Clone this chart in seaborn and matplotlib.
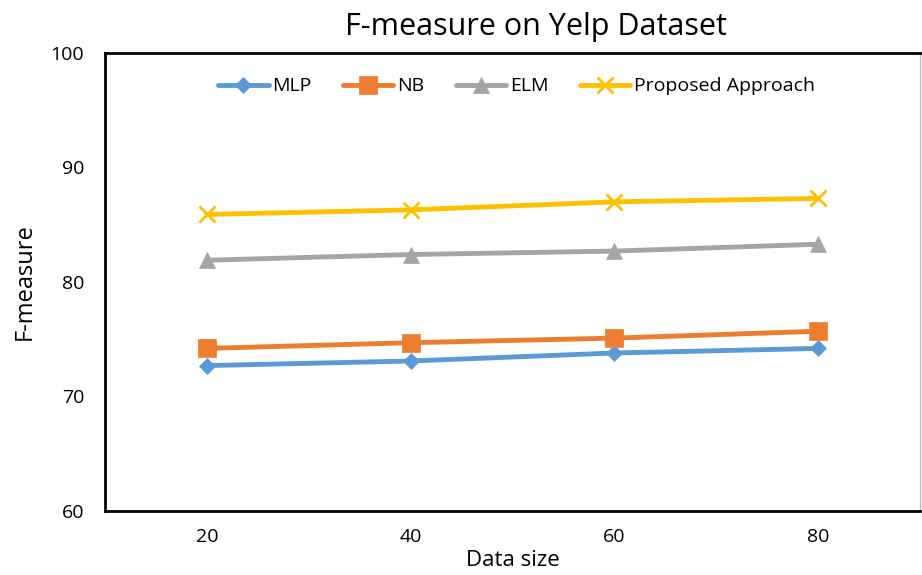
import matplotlib
matplotlib.use("Agg")
import matplotlib.pyplot as plt
import seaborn as sns
import pandas as pd
from matplotlib.ticker import FixedLocator

data_sizes = ["20", "40", "60", "80"]
series_names = ["MLP", "NB", "ELM", "Proposed Approach"]
mlp = [72.7, 73.1, 73.8, 74.2]
nb = [74.2, 74.7, 75.1, 75.7]
elm = [81.9, 82.4, 82.7, 83.3]
proposed = [85.9, 86.3, 87.0, 87.3]
y_ticks = [60, 70, 80, 90, 100]

colors = ["#5B9BD5", "#ED7D31", "#A5A5A5", "#FFC000"]
markers = ["D", "s", "^", "x"]
msizes = [8.5, 12.5, 12, 11.5]

sns.set_theme(style="white")
plt.rcParams["font.family"] = ["Open Sans", "DejaVu Sans"]
plt.rcParams["text.color"] = "black"
plt.rcParams["axes.labelcolor"] = "black"
plt.rcParams["xtick.color"] = "black"
plt.rcParams["ytick.color"] = "black"

rows = []
for name, vals in zip(series_names, [mlp, nb, elm, proposed]):
    for x, v in zip(data_sizes, vals):
        rows.append({"Data size": x, "F-measure": v, "Series": name})
df = pd.DataFrame(rows)

fig = plt.figure(figsize=(9.22, 5.75), dpi=100)
ax = fig.add_axes([105 / 922, 1 - 511 / 575, (920 - 105) / 922, (511 - 53) / 575])

for name, c, m, ms in zip(series_names, colors, markers, msizes):
    sub = df[df["Series"] == name]
    sns.lineplot(data=sub, x="Data size", y="F-measure", ax=ax, color=c,
                 marker=m, markersize=ms, linewidth=3.5, label=name,
                 markeredgecolor=c, markeredgewidth=2 if m == "x" else 0.5,
                 sort=False)

ax.set_xlim(-0.5, len(data_sizes) - 0.5)
ax.set_ylim(60, 100)
ax.set_yticks(y_ticks)
ax.set_xticks(range(len(data_sizes)))
ax.set_xticklabels(data_sizes)
ax.xaxis.set_minor_locator(FixedLocator([0.5, 1.5, 2.5]))
ax.tick_params(axis="x", which="major", length=0, labelsize=14, pad=12)
ax.tick_params(axis="x", which="minor", length=6, width=1, direction="in", color="black")
ax.tick_params(axis="y", which="major", length=6, width=1, direction="in", color="black", labelsize=14, pad=15)

for side in ["left", "bottom", "top"]:
    ax.spines[side].set_color("black")
    ax.spines[side].set_linewidth(2)
ax.spines["right"].set_color("#BBBBBB")
ax.spines["right"].set_linewidth(1)

ax.set_xlabel("Data size", fontsize=16, labelpad=3)
ax.set_ylabel("F-measure", fontsize=17, labelpad=10)
ax.set_title("F-measure on Yelp Dataset", fontsize=22, pad=13, x=0.529)

leg = ax.legend(loc="upper center", bbox_to_anchor=(0.505, 0.985), ncol=4,
                frameon=False, fontsize=14, handlelength=2.6,
                columnspacing=1.6, handletextpad=0.2)

fig.savefig("out.png", dpi=100)
